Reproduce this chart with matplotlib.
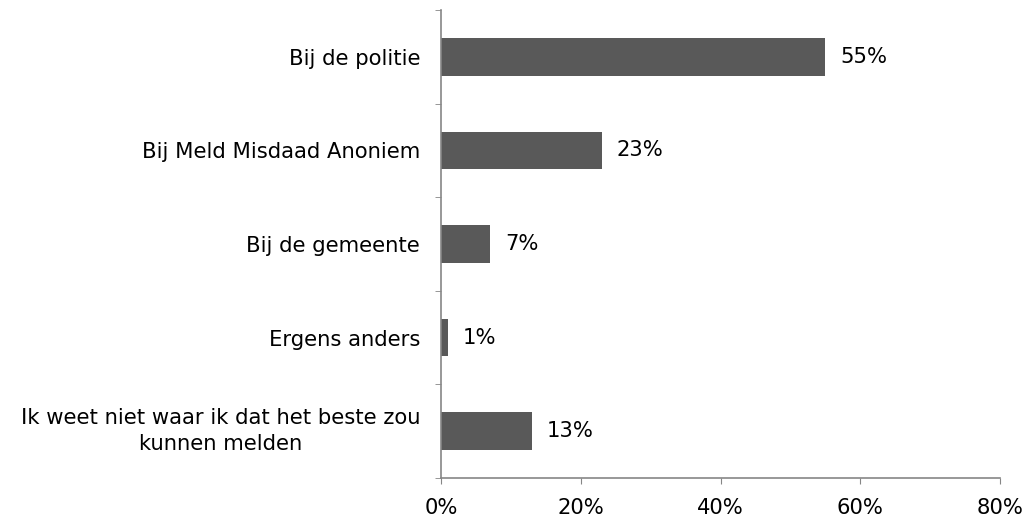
import matplotlib
matplotlib.use("Agg")
import matplotlib.pyplot as plt
import numpy as np

categories = ["Bij de politie", "Bij Meld Misdaad Anoniem", "Bij de gemeente",
              "Ergens anders", "Ik weet niet waar ik dat het beste zou\nkunnen melden"]
values = [55, 23, 7, 1, 13]
xticks = [0, 20, 40, 60, 80]
xticklabels = ["0%", "20%", "40%", "60%", "80%"]

FS = 15.2
plt.rcParams['font.family'] = ['DejaVu Sans']
fig = plt.figure(figsize=(10.32, 5.19), dpi=100)
ax = fig.add_axes([441/1032, 1-478/519, (1000-441)/1032, (478-10)/519])

n = len(categories)
y = np.arange(n)
ax.barh(y, values, height=0.4, color="#595959", zorder=2)
ax.set_ylim(n-0.5, -0.5)
ax.set_xlim(0, 80)
ax.set_xticks(xticks)
ax.set_xticklabels(xticklabels, fontsize=FS)
ax.set_yticks(y)
ax.set_yticklabels(categories, fontsize=FS, multialignment="center", linespacing=1.35)
ax.get_yticklabels()[-1].set_va("center")
ax.set_yticks(np.arange(-0.5, n, 1), minor=True)
ax.tick_params(axis="y", which="major", length=0, pad=15)
ax.tick_params(axis="y", which="minor", length=4.5, color="#868686", direction="out")
ax.tick_params(axis="x", which="major", length=4.5, color="#868686", direction="out", pad=10)
for s in ["top", "right"]:
    ax.spines[s].set_visible(False)
for s in ["left", "bottom"]:
    ax.spines[s].set_color("#868686")
    ax.spines[s].set_linewidth(1.2)

for yi, v in zip(y, values):
    ax.annotate(f"{v}%", (v, yi), xytext=(15, 0), textcoords="offset pixels",
                va="center", ha="left", fontsize=FS)

fig.savefig("out.png", dpi=100)
